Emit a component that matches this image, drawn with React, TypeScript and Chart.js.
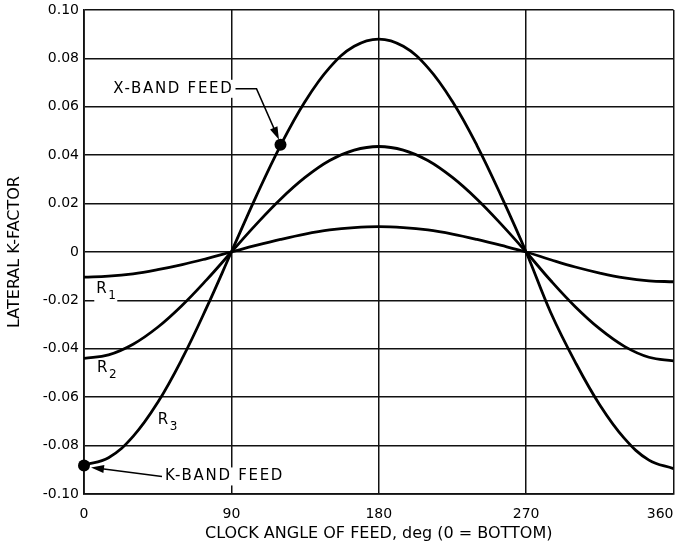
import React, { useEffect, useRef } from 'react';
import { Chart, registerables } from 'chart.js';

Chart.register(...registerables);

// Clock angle of feed (deg)
const ANGLES = [0, 15, 30, 45, 60, 75, 90, 105, 120, 135, 150, 165, 180, 195, 210, 225, 240, 255, 270, 285, 300, 315, 330, 345, 360];
// Lateral K-factor for the three curves
const R1 = [-0.0104, -0.0100, -0.0090, -0.0073, -0.0052, -0.0027, 0, 0.0027, 0.0052, 0.0074, 0.0091, 0.0101, 0.0105, 0.0101, 0.0091, 0.0074, 0.0052, 0.0027, 0, -0.0032, -0.0062, -0.0087, -0.0107, -0.0119, -0.0123];
const R2 = [-0.0440, -0.0425, -0.0381, -0.0311, -0.0220, -0.0114, 0, 0.0113, 0.0218, 0.0308, 0.0378, 0.0421, 0.0436, 0.0421, 0.0378, 0.0308, 0.0218, 0.0113, 0, -0.0118, -0.0226, -0.0318, -0.0390, -0.0435, -0.0450];
const R3 = [-0.0880, -0.0850, -0.0762, -0.0622, -0.0440, -0.0228, 0, 0.0228, 0.0440, 0.0622, 0.0762, 0.0850, 0.0880, 0.0850, 0.0762, 0.0622, 0.0440, 0.0228, 0, -0.0250, -0.0455, -0.0632, -0.0770, -0.0860, -0.0895];

const CURVE_NAMES = ['R', 'R', 'R'];
const CURVE_SUBS = ['1', '2', '3'];

const FEED_NAMES = ['X-BAND FEED', 'K-BAND FEED'];
const FEED_ANGLES = [120, 0];
const FEED_VALUES = [0.0443, -0.0882];

const X_TICKS = [0, 90, 180, 270, 360];
const Y_TICKS = [-0.1, -0.08, -0.06, -0.04, -0.02, 0, 0.02, 0.04, 0.06, 0.08, 0.1];

const X_TITLE = 'CLOCK ANGLE OF FEED, deg (0 = BOTTOM)';
const Y_TITLE = 'LATERAL K-FACTOR';

const FONT = "'DejaVu Sans', 'Liberation Sans', sans-serif";

function arrow(ctx: CanvasRenderingContext2D, pts: number[][], len: number, half: number) {
  const tip = pts[pts.length - 1];
  const prev = pts[pts.length - 2];
  const dx = tip[0] - prev[0];
  const dy = tip[1] - prev[1];
  const d = Math.hypot(dx, dy);
  const ux = dx / d, uy = dy / d;
  const bx = tip[0] - ux * len, by = tip[1] - uy * len;
  ctx.beginPath();
  ctx.moveTo(pts[0][0], pts[0][1]);
  for (let i = 1; i < pts.length - 1; i++) ctx.lineTo(pts[i][0], pts[i][1]);
  ctx.lineTo(bx + ux * 2, by + uy * 2);
  ctx.stroke();
  ctx.beginPath();
  ctx.moveTo(tip[0], tip[1]);
  ctx.lineTo(bx - uy * half, by + ux * half);
  ctx.lineTo(bx + uy * half, by - ux * half);
  ctx.closePath();
  ctx.fill();
}

const annotatePlugin = {
  id: 'annotate',
  afterDatasetsDraw(chart: any) {
    const { ctx, scales } = chart;
    const xs = scales.x, ys = scales.y;
    const px = (a: number, v: number) => [xs.getPixelForValue(a), ys.getPixelForValue(v)];
    ctx.save();
    ctx.fillStyle = '#000';
    ctx.strokeStyle = '#000';

    // Curve labels R1, R2, R3
    const labelPos = [[7.5, -0.0152], [8, -0.048], [45, -0.0695]];
    for (let i = 0; i < 3; i++) {
      const [lx, ly] = px(labelPos[i][0], labelPos[i][1]);
      ctx.fillStyle = '#fff';
      ctx.fillRect(lx - 2, ly - 9, 23, 23);
      ctx.fillStyle = '#000';
      ctx.textBaseline = 'middle';
      ctx.textAlign = 'left';
      ctx.font = `15px ${FONT}`;
      ctx.fillText(CURVE_NAMES[i], lx, ly);
      ctx.font = `12px ${FONT}`;
      ctx.fillText(CURVE_SUBS[i], lx + 12, ly + 7);
    }

    // Feed annotations
    ctx.lineWidth = 1.6;
    ctx.font = `15px ${FONT}`;
    (ctx as any).letterSpacing = '1.7px';
    ctx.textBaseline = 'middle';

    // X-band
    {
      const [dx, dy] = px(FEED_ANGLES[0], FEED_VALUES[0]);
      const ty = dy - 56;
      const tx = dx - 47;
      const w = ctx.measureText(FEED_NAMES[0]).width;
      ctx.fillStyle = '#fff';
      ctx.fillRect(tx - w - 2, ty - 9, w + 4, 18);
      ctx.fillStyle = '#000';
      ctx.textAlign = 'right';
      ctx.fillText(FEED_NAMES[0], tx, ty);
      arrow(ctx, [[tx + 2, ty], [dx - 24, ty], [dx - 1.5, dy - 5]], 13, 4);
    }
    // K-band
    {
      const [dx, dy] = px(FEED_ANGLES[1], FEED_VALUES[1]);
      const ty = dy + 11;
      const tx = dx + 81;
      const w = ctx.measureText(FEED_NAMES[1]).width;
      ctx.fillStyle = '#fff';
      ctx.fillRect(tx - 2, ty - 9, w + 4, 18);
      ctx.fillStyle = '#000';
      ctx.textAlign = 'left';
      ctx.fillText(FEED_NAMES[1], tx, ty);
      arrow(ctx, [[tx - 3, ty], [dx + 7, dy + 2]], 13, 4);
    }
    ctx.restore();
  },
};

function curve(values: number[]) {
  return {
    data: ANGLES.map((a, i) => ({ x: a, y: values[i] })),
    borderColor: '#000',
    backgroundColor: '#000',
    borderWidth: 2.8,
    pointRadius: 0,
    tension: 0.4,
    fill: false,
  };
}

export default function App() {
  const ref = useRef<HTMLCanvasElement | null>(null);

  useEffect(() => {
    if (!ref.current) return;
    const chart = new Chart(ref.current, {
      type: 'line',
      data: {
        datasets: [
          curve(R1) as any,
          curve(R2) as any,
          curve(R3) as any,
          {
            type: 'scatter',
            data: FEED_ANGLES.map((a, i) => ({ x: a, y: FEED_VALUES[i] })),
            pointRadius: 6,
            pointHoverRadius: 6,
            pointBackgroundColor: '#000',
            pointBorderColor: '#000',
            pointBorderWidth: 0,
            showLine: false,
            clip: false,
          } as any,
        ],
      },
      options: {
        animation: false,
        responsive: false,
        layout: { autoPadding: false, padding: { top: 10, right: 1.5, left: 0, bottom: 0 } },
        plugins: { legend: { display: false }, tooltip: { enabled: false } },
        scales: {
          x: {
            type: 'linear',
            min: 0,
            max: 360,
            afterBuildTicks: (s: any) => { s.ticks = X_TICKS.map((v) => ({ value: v })); },
            afterFit: (s: any) => { s.height = 60; s.paddingRight = 0; s.paddingLeft = 0; },
            ticks: {
              color: '#000',
              font: { family: FONT, size: 14 },
              padding: 12,
              maxRotation: 0,
              autoSkip: false,
              callback: (v: any) => (v === 360 ? '360\u00a0\u00a0\u00a0\u00a0\u00a0\u00a0' : String(v)),
            },
            grid: { color: '#111', lineWidth: 1.5, drawTicks: false },
            border: { color: '#111', width: 1.8 },
            title: {
              display: true,
              text: X_TITLE,
              color: '#000',
              font: { family: FONT, size: 16 },
              padding: { top: 0, bottom: 11 },
            },
          },
          y: {
            type: 'linear',
            min: -0.1,
            max: 0.1,
            afterBuildTicks: (s: any) => { s.ticks = Y_TICKS.map((v) => ({ value: v })); },
            afterFit: (s: any) => { s.width = 84; s.paddingTop = 0; s.paddingBottom = 0; },
            ticks: {
              color: '#000',
              font: { family: FONT, size: 14 },
              padding: 5,
              autoSkip: false,
              callback: (v: any) => (Math.abs(v) < 1e-9 ? '0' : Number(v).toFixed(2)),
            },
            grid: { color: '#111', lineWidth: 1.5, drawTicks: false },
            border: { color: '#111', width: 1.8 },
            title: {
              display: true,
              text: Y_TITLE,
              color: '#000',
              font: { family: FONT, size: 16 },
              padding: { top: 5, bottom: 0 },
            },
          },
        },
      },
      plugins: [annotatePlugin],
    });
    return () => chart.destroy();
  }, []);

  return (
    <div style={{ position: 'absolute', left: 0, top: 0, width: 675, height: 554, background: '#fff' }}>
      <canvas ref={ref} width={675} height={554} />
    </div>
  );
}
